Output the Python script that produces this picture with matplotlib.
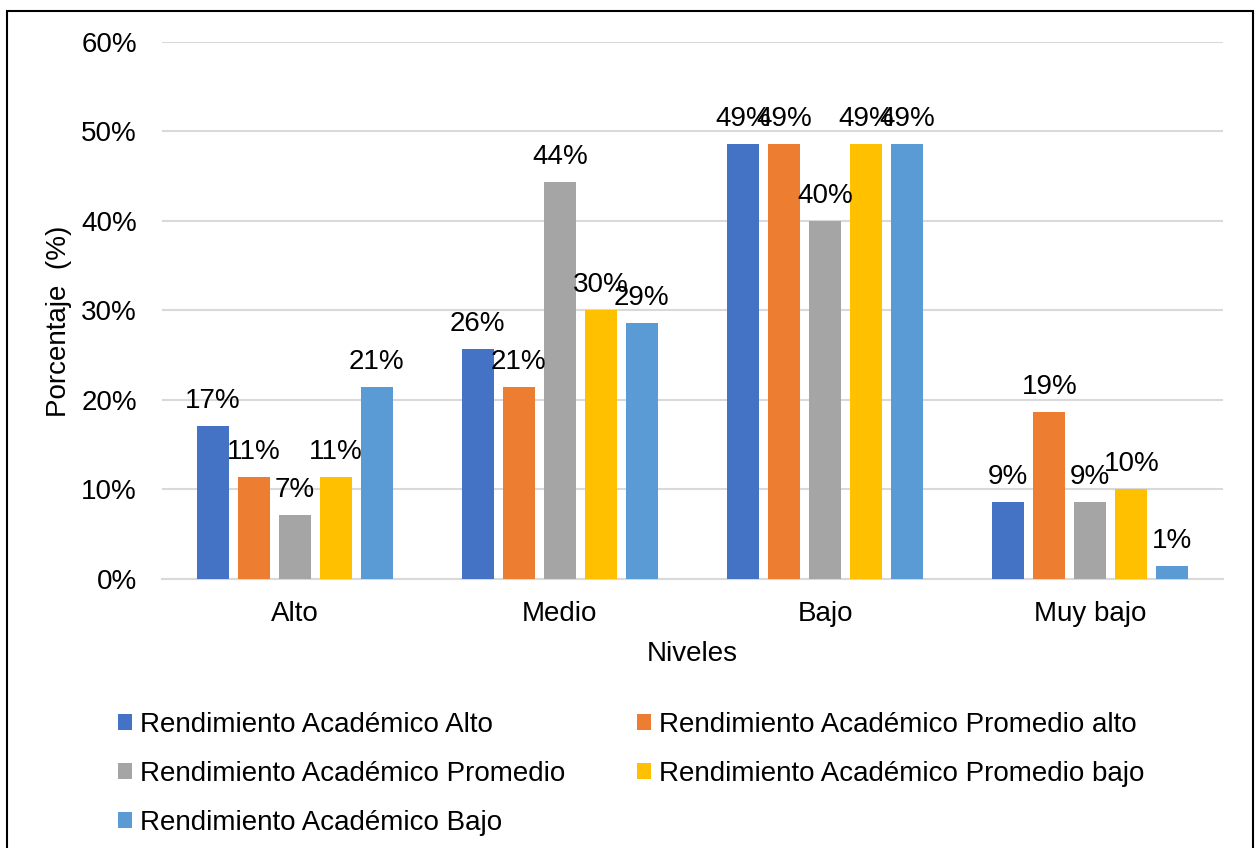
import matplotlib
matplotlib.use("Agg")
import matplotlib.pyplot as plt
import matplotlib.patches as mpatches
import numpy as np

plt.rcParams['font.family'] = ['Liberation Sans', 'DejaVu Sans']

# datos
niveles = ['Alto', 'Medio', 'Bajo', 'Muy bajo']
series = ['Rendimiento Académico Alto',
          'Rendimiento Académico Promedio alto',
          'Rendimiento Académico Promedio',
          'Rendimiento Académico Promedio bajo',
          'Rendimiento Académico Bajo']
ra_alto = [17.1, 25.7, 48.6, 8.6]
ra_prom_alto = [11.4, 21.4, 48.6, 18.6]
ra_promedio = [7.1, 44.3, 40.0, 8.6]
ra_prom_bajo = [11.4, 30.0, 48.6, 10.0]
ra_bajo = [21.4, 28.6, 48.6, 1.4]
valores = [ra_alto, ra_prom_alto, ra_promedio, ra_prom_bajo, ra_bajo]
colores = ['#4472C4', '#ED7D31', '#A5A5A5', '#FFC000', '#5B9BD5']
yticks = [0, 10, 20, 30, 40, 50, 60]

fs = 20

fig = plt.figure(figsize=(12.59, 8.48), dpi=100)
ax = fig.add_axes([162 / 1259, 1 - 579 / 848, 1061 / 1259, 537.5 / 848])

x = np.arange(len(niveles))
ancho = 0.121
paso = 0.1546
barras = []
for i, (vals, col) in enumerate(zip(valores, colores)):
    b = ax.bar(x + (i - 2) * paso, vals, ancho, color=col, label=series[i], zorder=3)
    barras.append(b)
    for rect, v in zip(b, vals):
        ax.annotate('%d%%' % round(v), (rect.get_x() + rect.get_width() / 2, v),
                    xytext=(0, 13), textcoords='offset points',
                    ha='center', va='baseline', fontsize=fs, color='#000000', zorder=4)

ax.set_xlim(-0.5, 3.5)
ax.set_ylim(0, 60)
ax.set_yticks(yticks)
ax.set_yticklabels(['%d%%' % t for t in yticks])
ax.set_xticks(x)
ax.set_xticklabels(niveles)
ax.tick_params(axis='y', length=0, pad=18, labelsize=fs, labelcolor='#000000')
ax.tick_params(axis='x', length=0, pad=16, labelsize=fs, labelcolor='#000000')
ax.grid(axis='y', color='#D9D9D9', linewidth=1.5, zorder=0)
for s in ['top', 'right', 'left']:
    ax.spines[s].set_visible(False)
ax.spines['bottom'].set_color('#D9D9D9')
ax.spines['bottom'].set_linewidth(1.5)

ax.set_xlabel('Niveles', fontsize=fs, labelpad=10)
ax.set_ylabel('Porcentaje  (%)', fontsize=fs)
ax.yaxis.set_label_coords(-0.085, 0.48)

orden = [0, 2, 4, 1, 3]
fig.legend([barras[i] for i in orden], [series[i] for i in orden],
           ncol=2, loc='upper left', bbox_to_anchor=(118 / 1259, 1 - 712 / 848),
           frameon=False, fontsize=fs, handlelength=0.5, handleheight=0.5,
           handletextpad=0.29, columnspacing=2.6, labelspacing=0.82,
           borderpad=0, borderaxespad=0)

# marco del grafico
fig.patches.append(mpatches.Rectangle((7 / 1259, -0.05), 1246 / 1259, 1.05 - 11 / 848,
                                      transform=fig.transFigure, fill=False,
                                      edgecolor='black', linewidth=1.5))

fig.savefig('out.png', dpi=100)
